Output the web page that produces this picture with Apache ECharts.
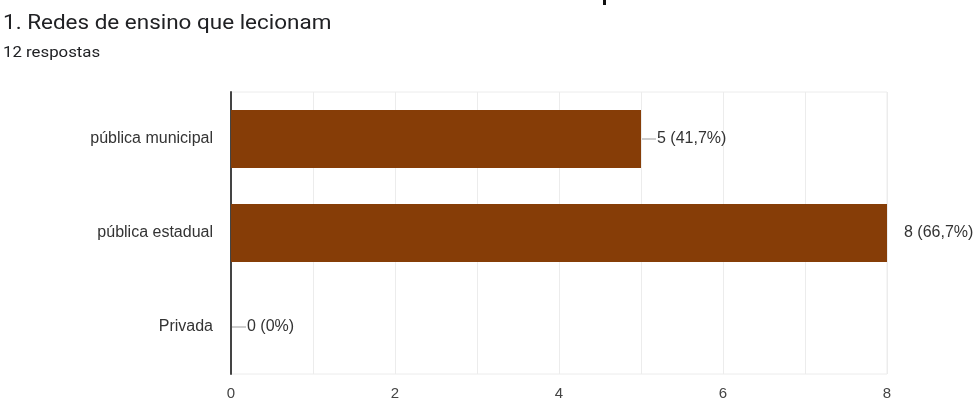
<!DOCTYPE html>
<html>
<head>
<meta charset="utf-8">
<script src="https://cdn.jsdelivr.net/npm/echarts@6/dist/echarts.min.js"></script>
<style>
  html, body { margin: 0; padding: 0; background: #fff; }
  #chart { width: 979px; height: 401px; }
</style>
</head>
<body>
<div id="chart"></div>
<script>
// Survey question: teaching networks (12 answers)
const categories = ['pública municipal', 'pública estadual', 'Privada'];
const counts = [5, 8, 0];
const percentLabels = ['41,7%', '66,7%', '0%'];
const xTicks = [0, 2, 4, 6, 8];
const totalAnswers = 12;
const questionTitle = '1. Redes de ensino que lecionam';

const barColor = '#863d07';

const chart = echarts.init(document.getElementById('chart'));

const seriesData = counts.map((v, i) => {
  const withLeader = v < 8;
  return {
    value: v,
    label: {
      distance: withLeader ? 1 : 16,
      formatter: withLeader
        ? '{l|}{t|' + v + ' (' + percentLabels[i] + ')}'
        : '{t|' + v + ' (' + percentLabels[i] + ')}'
    }
  };
});

chart.setOption({
  animation: false,
  graphic: [
    {
      type: 'text', left: 3, top: 13, scaleX: 1.07,
      style: { text: questionTitle, fontFamily: 'Roboto', fontSize: 21, fill: '#202124' }
    },
    {
      type: 'text', left: 3, top: 46, scaleX: 1.2,
      style: { text: totalAnswers + ' respostas', fontFamily: 'Roboto', fontSize: 14, fill: '#202124' }
    },
    { type: 'rect', shape: { x: 603, y: 0, width: 3, height: 5 }, style: { fill: '#111' } }
  ],
  grid: {
    left: 231, right: 92, top: 92, bottom: 26,
    show: true, borderColor: '#ececec', borderWidth: 1
  },
  xAxis: {
    type: 'value',
    min: 0, max: 8, interval: 1,
    axisLine: { show: false },
    axisTick: { show: false },
    splitLine: { show: true, lineStyle: { color: '#ececec', width: 1 } },
    axisLabel: {
      margin: 12,
      fontFamily: 'Liberation Sans', fontSize: 15, color: '#444',
      formatter: v => (xTicks.indexOf(v) >= 0 ? String(v) : '')
    }
  },
  yAxis: {
    type: 'category',
    inverse: true,
    data: categories,
    axisLine: { show: true, lineStyle: { color: '#444', width: 2 } },
    axisTick: { show: false },
    axisLabel: { margin: 18, fontFamily: 'Liberation Sans', fontSize: 16, color: '#333' }
  },
  series: [{
    type: 'bar',
    data: seriesData,
    barWidth: 58,
    itemStyle: { color: barColor },
    label: {
      show: true,
      position: 'right',
      rich: {
        l: { width: 14, height: 1, backgroundColor: '#9a9a9a', verticalAlign: 'middle' },
        t: { fontFamily: 'Liberation Sans', fontSize: 16, color: '#333', padding: [0, 0, 0, 1] }
      }
    }
  }]
});
</script>
</body>
</html>
